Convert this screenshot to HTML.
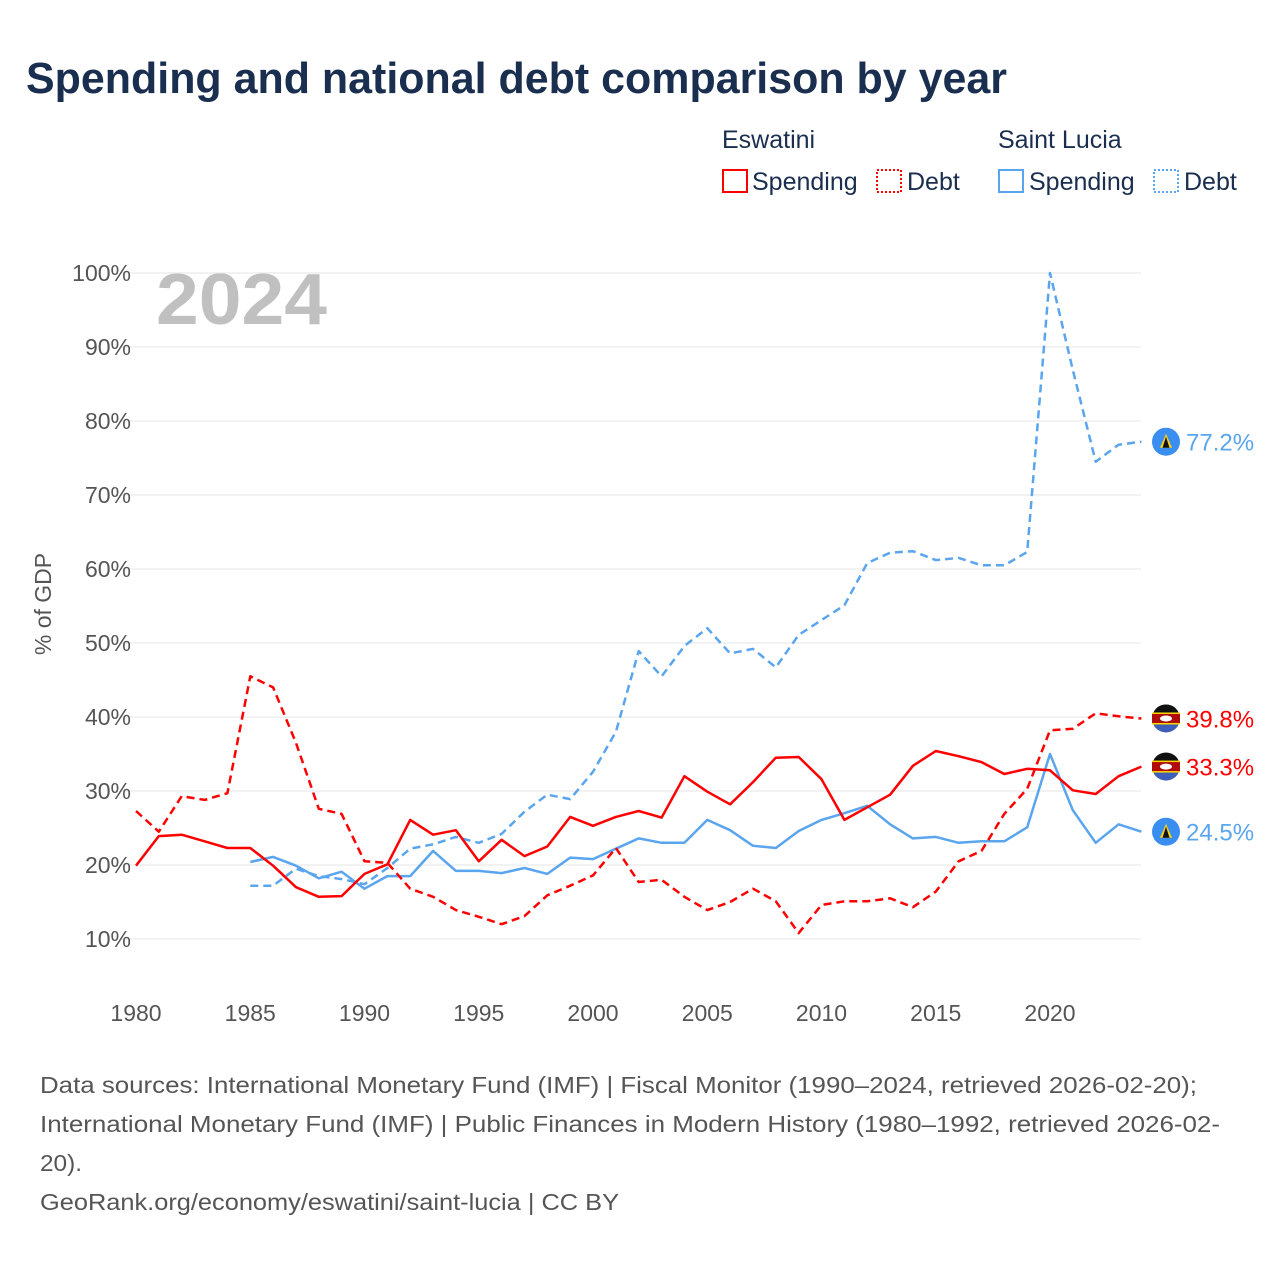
<!DOCTYPE html>
<html><head><meta charset="utf-8"><style>
body{margin:0;background:#fff;font-family:"Liberation Sans",sans-serif;}
#wrap{position:relative;width:1280px;height:1280px;overflow:hidden;}
</style></head><body>
<div id="wrap">
<svg id="chart" width="1280" height="1280">
<text x="26" y="93" font-size="44" font-weight="bold" fill="#1a2e4f" textLength="981" lengthAdjust="spacingAndGlyphs">Spending and national debt comparison by year</text>
<g font-size="25" fill="#1a2e4f">
<text x="722" y="148">Eswatini</text>
<text x="998" y="148">Saint Lucia</text>
<g><rect x="723" y="170" width="24" height="22" fill="none" stroke="#ff0000" stroke-width="2"/><text x="752" y="190">Spending</text></g>
<g><rect x="877" y="170" width="24" height="22" fill="none" stroke="#ff0000" stroke-width="2" stroke-dasharray="2,2"/><text x="907" y="190">Debt</text></g>
<g><rect x="999" y="170" width="24" height="22" fill="none" stroke="#5aa5ee" stroke-width="2"/><text x="1029" y="190">Spending</text></g>
<g><rect x="1154" y="170" width="24" height="22" fill="none" stroke="#5aa5ee" stroke-width="2" stroke-dasharray="2,2"/><text x="1184" y="190">Debt</text></g>
</g>
<text x="156" y="324" font-size="72" font-weight="bold" fill="#c0c0c0" textLength="171" lengthAdjust="spacingAndGlyphs">2024</text>
<text transform="translate(51,604) rotate(-90)" text-anchor="middle" font-size="23" fill="#555">% of GDP</text>
<g id="grid"></g><g id="series"></g><g id="ends"></g>
<g font-size="23" fill="#555">
<text x="40" y="1093" textLength="1157" lengthAdjust="spacingAndGlyphs">Data sources: International Monetary Fund (IMF) | Fiscal Monitor (1990–2024, retrieved 2026-02-20);</text>
<text x="40" y="1132" textLength="1180" lengthAdjust="spacingAndGlyphs">International Monetary Fund (IMF) | Public Finances in Modern History (1980–1992, retrieved 2026-02-</text>
<text x="40" y="1171" textLength="42" lengthAdjust="spacingAndGlyphs">20).</text>
<text x="40" y="1210" textLength="579" lengthAdjust="spacingAndGlyphs">GeoRank.org/economy/eswatini/saint-lucia | CC BY</text>
</g>
</svg></div>
<script>
const yTicks=[10,20,30,40,50,60,70,80,90,100];
const xTicks=[1980,1985,1990,1995,2000,2005,2010,2015,2020];
const eswYears=[];for(let y=1980;y<=2024;y++)eswYears.push(y);
const lcaYears=[];for(let y=1985;y<=2024;y++)lcaYears.push(y);
const eswSpending=[19.9,23.9,24.1,23.2,22.3,22.3,19.9,17.0,15.7,15.8,18.8,20.1,26.1,24.1,24.7,20.5,23.4,21.2,22.5,26.5,25.3,26.5,27.3,26.4,32.0,29.9,28.2,31.2,34.5,34.6,31.6,26.1,27.8,29.5,33.4,35.4,34.7,33.9,32.3,33.0,32.8,30.1,29.6,32.0,33.3];
const eswDebt=[27.3,24.5,29.3,28.8,29.7,45.5,44.0,36.5,27.6,26.9,20.5,20.3,16.8,15.7,13.9,13.0,12.0,13.1,15.9,17.2,18.6,22.3,17.7,18.0,15.7,13.9,15.0,16.8,15.1,10.8,14.6,15.1,15.1,15.5,14.3,16.4,20.5,21.9,26.9,30.3,38.2,38.4,40.5,40.1,39.8];
const lcaSpending=[20.4,21.1,19.9,18.2,19.1,16.8,18.5,18.5,21.9,19.2,19.2,18.9,19.6,18.8,21.0,20.8,22.2,23.6,23.0,23.0,26.1,24.7,22.6,22.3,24.6,26.1,27.0,28.0,25.5,23.6,23.8,23.0,23.2,23.2,25.1,35.0,27.4,23.0,25.5,24.5];
const lcaDebt=[17.2,17.2,19.5,18.5,18.1,17.4,19.6,22.2,22.8,23.8,23.0,24.2,27.2,29.5,28.9,32.6,38.0,48.9,45.5,49.6,52.0,48.6,49.2,46.7,51.1,53.1,55.1,60.8,62.2,62.4,61.2,61.5,60.5,60.5,62.3,100.0,86.9,74.5,76.8,77.2];
const NS='http://www.w3.org/2000/svg';
const X=yr=>136+(yr-1980)*22.85;
const Y=v=>939-(v-10)*7.4;
function mk(tag,attrs,parent){const e=document.createElementNS(NS,tag);for(const k in attrs)e.setAttribute(k,attrs[k]);parent.appendChild(e);return e;}
const grid=document.getElementById('grid');
yTicks.forEach(t=>{
 const l=mk('line',{x1:120,x2:1141,y1:Y(t),y2:Y(t),stroke:'#e6e6e6','stroke-width':1},grid);
 
 
 const tx=mk('text',{x:131,y:Y(t)+8,'text-anchor':'end','font-size':23,fill:'#555'},grid);
 tx.textContent=t+'%';
 
 
});
xTicks.forEach(t=>{
 const tx=mk('text',{x:X(t),y:1021,'text-anchor':'middle','font-size':23,fill:'#555'},grid);
 tx.textContent=t;
 
 
});
const ser=document.getElementById('series');
function line(years,vals,color,dash,name){
 const d=vals.map((v,i)=>(i?'L':'M')+X(years[i]).toFixed(1)+','+Y(v).toFixed(1)).join('');
 const p=mk('path',{d:d,fill:'none',stroke:color,'stroke-width':2.5,'stroke-linejoin':'round'},ser);
 if(dash)p.setAttribute('stroke-dasharray','8,5');
 
 
}
line(lcaYears,lcaDebt,'#5aa5ee',true,'saint-lucia-debt-line');
line(lcaYears,lcaSpending,'#5aa5ee',false,'saint-lucia-spending-line');
line(eswYears,eswDebt,'#ff0000',true,'eswatini-debt-line');
line(eswYears,eswSpending,'#ff0000',false,'eswatini-spending-line');
const ends=document.getElementById('ends');
function endLabel(v,color,flag,name){
 const cx=1166,cy=Y(v);
 const g=mk('g',{},ends);
 
 
 if(flag==='swz'){
  mk('circle',{cx:cx,cy:cy,r:14,fill:'#3e5eb9'},g);
  mk('path',{d:`M${cx-14},${cy} A14,14 0 0 1 ${cx+14},${cy} Z`,fill:'#111'},g);
  mk('rect',{x:cx-14,y:cy-5,width:28,height:10,fill:'#b10c0c'},g);
  mk('rect',{x:cx-14,y:cy-6,width:28,height:1.5,fill:'#ffd900'},g);
  mk('rect',{x:cx-14,y:cy+4.5,width:28,height:1.5,fill:'#ffd900'},g);
  mk('ellipse',{cx:cx,cy:cy,rx:6,ry:3,fill:'#fff'},g);
 } else {
  mk('circle',{cx:cx,cy:cy,r:14,fill:'#3a8ef0'},g);
  mk('polygon',{points:`${cx},${cy-8} ${cx+6},${cy+6} ${cx-6},${cy+6}`,fill:'#fcd116'},g);
  mk('polygon',{points:`${cx},${cy-5} ${cx+3.5},${cy+6} ${cx-3.5},${cy+6}`,fill:'#111'},g);
 }
 const t=mk('text',{x:1186,y:cy+9,'font-size':24,fill:color},g);
 t.textContent=v.toFixed(1)+'%';
}
endLabel(lcaDebt[lcaDebt.length-1],'#5aa5ee','lca','saint-lucia-debt-end-label');
endLabel(eswDebt[eswDebt.length-1],'#ff0000','swz','eswatini-debt-end-label');
endLabel(eswSpending[eswSpending.length-1],'#ff0000','swz','eswatini-spending-end-label');
endLabel(lcaSpending[lcaSpending.length-1],'#5aa5ee','lca','saint-lucia-spending-end-label');
</script>
</body></html>
